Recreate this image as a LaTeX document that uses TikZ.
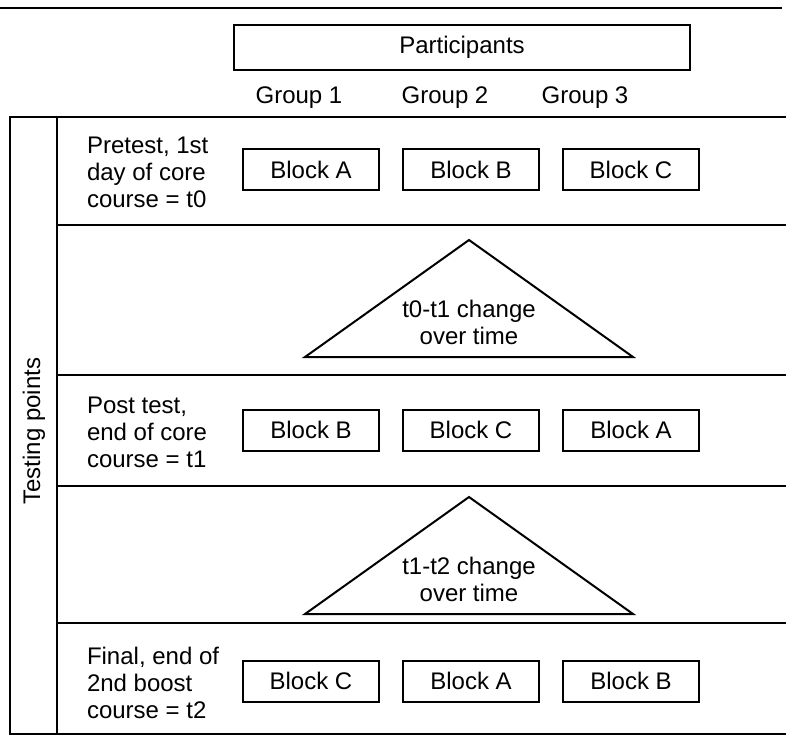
\documentclass[tikz,border=0pt]{standalone}
\usepackage{fontspec}
\setmainfont{Liberation Sans}
\usetikzlibrary{positioning}

\begin{document}
\begin{tikzpicture}[x=0.5pt,y=-0.5pt,line width=1pt,every node/.style={font=\fontsize{12}{13.5}\selectfont},block/.style={draw,minimum width=68pt,minimum height=20.5pt,inner sep=0pt},rowText/.style={anchor=west,align=left,inner sep=0pt},]
	\useasboundingbox (0,0) rectangle (795,743);
	% create header
	\draw[line width=1.3pt] (0,8) -- (782,8);
	\node (par) [draw,minimum width=228pt,minimum height=22.5pt] at (462,47.5) {Participants};
	\node (gr1) [anchor=base] at (299,104) {Group 1};
	\node (gr2) [anchor=base] at (445,104) {Group 2};
	\node (gr3) [anchor=base] at (585,104) {Group 3};

	% create frame of testing points
	\draw (10,117) rectangle (57,734);
	\foreach \y in {117,225,374.5,485.5,622.5,734}
		\draw (57,\y) -- (786,\y);
	\node (tP) [rotate=90] at (34,431) {Testing points};

	% create rows
	\node (pre) [rowText] at (86,172.5) {Pretest, 1st\\day of core\\course = t0};
	\node (bA1) [block] at (311,169.5) {Block A};
	\node (bB1) [block,right = 11pt of bA1] {Block B};
	\node (bC1) [block,right = 11pt of bB1] {Block C};

	\node (post) [rowText] at (86,432) {Post test,\\end of core\\course = t1};
	\node (bB2) [block] at (311,430) {Block B};
	\node (bC2) [block,right = 11pt of bB2] {Block C};
	\node (bA2) [block,right = 11pt of bC2] {Block A};

	\node (fin) [rowText] at (86,682.5) {Final, end of\\2nd boost\\course = t2};
	\node (bC3) [block] at (311,681) {Block C};
	\node (bA3) [block,right = 11pt of bC3] {Block A};
	\node (bB3) [block,right = 11pt of bA3] {Block B};

	% change over time
	\draw (305,357) -- (469,240) -- (633,357) -- cycle;
	\node (ch01) [align=center,inner sep=0pt] at (469,322) {t0-t1 change\\over time};
	\draw (305,614) -- (469,497) -- (633,614) -- cycle;
	\node (ch12) [align=center,inner sep=0pt] at (469,579) {t1-t2 change\\over time};
\end{tikzpicture}
\end{document}
